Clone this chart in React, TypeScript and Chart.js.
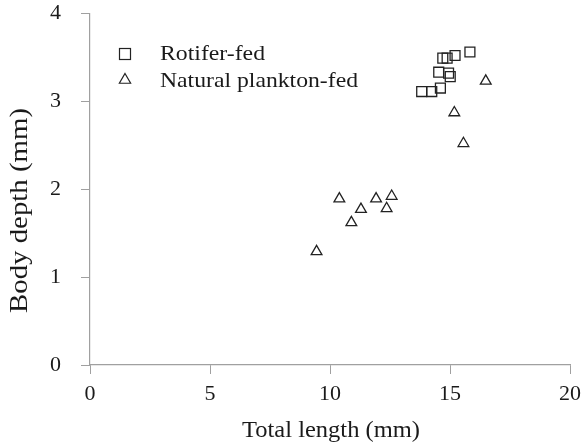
import React, { useEffect, useRef } from 'react';
import { Chart, registerables } from 'chart.js';

Chart.register(...registerables);

const rotiferLength = [14.70, 14.88, 15.21, 15.83, 14.53, 14.94, 15.01, 14.60, 14.24, 13.82];
const rotiferDepth = [3.49, 3.49, 3.52, 3.56, 3.33, 3.32, 3.28, 3.15, 3.11, 3.11];
const planktonLength = [16.49, 15.18, 15.56, 10.39, 11.92, 12.57, 11.29, 12.36, 10.89, 9.44];
const planktonDepth = [3.23, 2.87, 2.52, 1.89, 1.89, 1.92, 1.77, 1.78, 1.62, 1.29];
const xTitle = 'Total length (mm)';
const yTitle = 'Body depth (mm)';
const seriesNames = ['Rotifer-fed', 'Natural plankton-fed'];

const FONT = '"Liberation Serif", "Times New Roman", serif';
const TEXT = '#1a1a1a';
const AXIS = '#a0a0a0';
const MARK = '#222222';

function fitText(ctx: CanvasRenderingContext2D, text: string, x: number, y: number, width: number, align: 'left' | 'center') {
  const w = ctx.measureText(text).width;
  const s = width / w;
  ctx.save();
  ctx.translate(x, y);
  ctx.scale(s, 1);
  ctx.textAlign = align;
  ctx.fillText(text, 0, 0);
  ctx.restore();
}

const decorPlugin = {
  id: 'decor',
  afterDraw(chart: any) {
    const ctx = chart.ctx as CanvasRenderingContext2D;
    ctx.save();
    ctx.fillStyle = TEXT;
    ctx.textBaseline = 'alphabetic';
    // x title
    ctx.font = `23px ${FONT}`;
    fitText(ctx, xTitle, 331, 437, 178, 'center');
    // y title
    ctx.save();
    ctx.translate(27, 210.5);
    ctx.rotate(-Math.PI / 2);
    ctx.font = `25px ${FONT}`;
    fitText(ctx, yTitle, 0, 0, 205, 'center');
    ctx.restore();
    // legend markers
    ctx.strokeStyle = MARK;
    ctx.lineWidth = 1.2;
    ctx.strokeRect(119.5, 48.5, 11, 11);
    const cx = 125, cy = 80, r = 6.5;
    ctx.beginPath();
    for (let i = 0; i < 3; i++) {
      const a = (i * 2 * Math.PI) / 3;
      const px = cx + Math.sin(a) * r;
      const py = cy - Math.cos(a) * r;
      if (i === 0) ctx.moveTo(px, py); else ctx.lineTo(px, py);
    }
    ctx.closePath();
    ctx.stroke();
    ctx.font = `22px ${FONT}`;
    fitText(ctx, seriesNames[0], 160, 60, 105, 'left');
    fitText(ctx, seriesNames[1], 160, 87, 198, 'left');
    ctx.restore();
  },
};

export default function App() {
  const ref = useRef<HTMLCanvasElement | null>(null);
  useEffect(() => {
    document.body.style.margin = '0';
    const canvas = ref.current;
    if (!canvas) return;
    const tickFont = { family: FONT, size: 22 };
    const chart = new Chart(canvas, {
      type: 'scatter',
      data: {
        datasets: [
          {
            label: seriesNames[0],
            data: rotiferLength.map((x, i) => ({ x, y: rotiferDepth[i] })),
            pointStyle: 'rect',
            pointRadius: 7,
            borderColor: MARK,
            backgroundColor: 'rgba(0,0,0,0)',
            borderWidth: 1.3,
          },
          {
            label: seriesNames[1],
            data: planktonLength.map((x, i) => ({ x, y: planktonDepth[i] })),
            pointStyle: 'triangle',
            pointRadius: 6.2,
            borderColor: MARK,
            backgroundColor: 'rgba(0,0,0,0)',
            borderWidth: 1.3,
          },
        ],
      },
      options: {
        animation: false,
        responsive: false,
        layout: { padding: { top: 13.3, right: 15, left: 0, bottom: 0 } },
        plugins: { legend: { display: false }, tooltip: { enabled: false } },
        scales: {
          x: {
            type: 'linear',
            min: 0,
            max: 20,
            ticks: { stepSize: 5, font: tickFont, color: TEXT, padding: 7 },
            grid: { drawOnChartArea: false, drawTicks: true, tickLength: 9, color: AXIS },
            border: { color: AXIS, width: 1.2 },
            afterFit: (s: any) => {
              s.height = 78;
              s.paddingLeft = 0;
              s.paddingRight = 0;
              s.paddingTop = 0;
              s.paddingBottom = 0;
            },
          },
          y: {
            type: 'linear',
            min: 0,
            max: 4,
            ticks: { stepSize: 1, font: tickFont, color: TEXT, padding: 20 },
            grid: { drawOnChartArea: false, drawTicks: true, tickLength: 9, color: AXIS },
            border: { color: AXIS, width: 1.2 },
            afterFit: (s: any) => {
              s.width = 90;
              s.paddingLeft = 0;
              s.paddingRight = 0;
              s.paddingTop = 0;
              s.paddingBottom = 0;
            },
          },
        },
      },
      plugins: [decorPlugin],
    });
    return () => chart.destroy();
  }, []);
  return (
    <div style={{ width: 585, height: 443 }}>
      <canvas ref={ref} width={585} height={443} />
    </div>
  );
}
